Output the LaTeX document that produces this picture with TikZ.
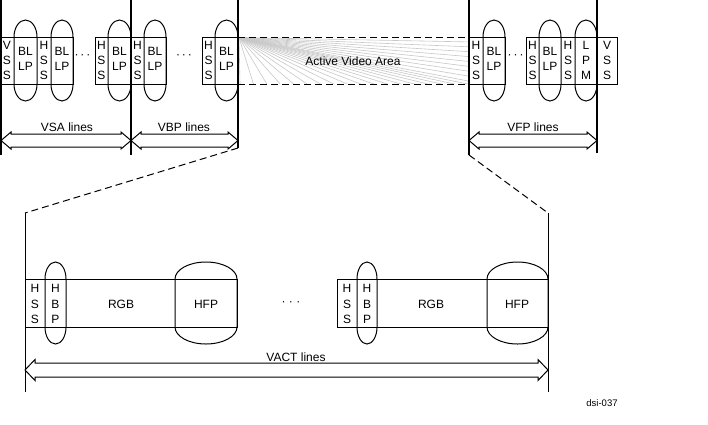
\documentclass[tikz,border=0pt]{standalone}
\usepackage{fontspec}
\setmainfont{Liberation Sans}
\usetikzlibrary{calc}
% stadium-shaped oval: x1, x2, band top, band bottom, cap height
\newcommand\stadoval[5]{%
  \pgfmathsetmacro\stcx{(#1+#2)/2}%
  \pgfmathsetmacro\stax{0.552*(#2-#1)/2}%
  \pgfmathsetmacro\stby{0.552*#5}%
  \draw[thin line] (#1,#3) .. controls (#1,#3-\stby) and (\stcx-\stax,#3-#5) .. (\stcx,#3-#5)
    .. controls (\stcx+\stax,#3-#5) and (#2,#3-\stby) .. (#2,#3) -- (#2,#4)
    .. controls (#2,#4+\stby) and (\stcx+\stax,#4+#5) .. (\stcx,#4+#5)
    .. controls (\stcx-\stax,#4+#5) and (#1,#4+\stby) .. (#1,#4) -- cycle;}
% hollow double arrow: x1, x2, y centre, shaft half height, head half height
\newcommand\hollowdim[5]{%
  \draw[thin line] (#1,#3) -- (#1+10,#3-#5) -- (#1+10,#3-#4) -- (#2-10,#3-#4) -- (#2-10,#3-#5)
    -- (#2,#3) -- (#2-10,#3+#5) -- (#2-10,#3+#4) -- (#1+10,#3+#4) -- (#1+10,#3+#5) -- cycle;}
\begin{document}
\begin{tikzpicture}[x=1pt,y=-1pt,
  thin line/.style={line width=1pt,line join=miter},
  vline/.style={line width=2pt},
  fanline/.style={draw=black!22,line width=0.6pt},
  dashline/.style={line width=1pt,dash pattern=on 7pt off 4pt},
  txt/.style={font=\fontsize{12}{15}\selectfont,inner sep=0pt,align=center},
  btxt/.style={font=\fontsize{12}{15.5}\selectfont,inner sep=0pt,align=center},
  small/.style={font=\fontsize{9.5}{11}\selectfont,inner sep=0pt}]
\useasboundingbox (0,0) rectangle (708,424);

% ---------- top: active video fan ----------
\coordinate (fanorg) at (239,37.5);
\foreach \i in {0,...,17} \draw[fanline] (fanorg) -- ({240+13.4*\i},84);
\foreach \j in {1,...,9} \draw[fanline] (fanorg) -- (469,{37+4.9*\j});
\coordinate (avtl) at (238,37); \coordinate (avtr) at (469,37);
\coordinate (avbl) at (238,84); \coordinate (avbr) at (469,84);
\draw[dashline] (avtl) -- (avtr);
\draw[dashline] (avbl) -- (avbr);
\node[txt] (ava) at (353,61) {Active Video Area};

% ---------- top bands ----------
\draw[thin line] (0,37) rectangle (73,84);
\draw[thin line] (95,37) rectangle (166,84);
\draw[thin line] (202,37) rectangle (238,84);
\draw[thin line] (469,37) rectangle (505,84);
\draw[thin line] (526,37) rectangle (617,84);
\foreach \a/\b in {14/37,51/73,108/131,144/166,215/238,483/505,539/561,575/597}
  \stadoval{\a}{\b}{37}{84}{17};

\node[txt] (vss1) at (7,60) {V\\S\\S};
\node[txt] (bl1) at (25.5,58.5) {BL\\LP};
\node[txt] (hss1) at (44,60) {H\\S\\S};
\node[txt] (bl2) at (62,58.5) {BL\\LP};
\node[txt] (dots1) at (82.5,57) {·\,·\,·};
\node[txt] (hss2) at (101.5,60) {H\\S\\S};
\node[txt] (bl3) at (119.5,58.5) {BL\\LP};
\node[txt] (hss3) at (137.5,60) {H\\S\\S};
\node[txt] (bl4) at (155,58.5) {BL\\LP};
\node[txt] (dots2) at (184,57) {·\,·\,·};
\node[txt] (hss4) at (208.5,60) {H\\S\\S};
\node[txt] (bl5) at (226.5,58.5) {BL\\LP};
\node[txt] (hss5) at (476,60) {H\\S\\S};
\node[txt] (bl6) at (494,58.5) {BL\\LP};
\node[txt] (dots3) at (515.5,57) {·\,·\,·};
\node[txt] (hss6) at (532.5,60) {H\\S\\S};
\node[txt] (bl7) at (550,58.5) {BL\\LP};
\node[txt] (hss7) at (568,60) {H\\S\\S};
\node[txt] (lpm) at (586,60) {L\\P\\M};
\node[txt] (vss2) at (607,60) {V\\S\\S};

% ---------- top vertical lines ----------
\coordinate (v0t) at (1,0);   \coordinate (v0b) at (1,155);
\coordinate (v1t) at (131,0); \coordinate (v1b) at (131,155);
\coordinate (v2t) at (238,0); \coordinate (v2b) at (238,148);
\coordinate (v3t) at (469,0); \coordinate (v3b) at (469,155);
\coordinate (v4t) at (597,0); \coordinate (v4b) at (597,153);
\foreach \n in {0,...,4} \draw[vline] (v\n t) -- (v\n b);

% ---------- top dimension arrows ----------
\hollowdim{1}{131}{140.5}{6.5}{8.5}
\hollowdim{131}{238}{140.5}{6.5}{8.5}
\hollowdim{469}{597}{140.5}{6.5}{8.5}
\node[txt] (vsa) at (67,127) {VSA lines};
\node[txt] (vbp) at (184,127) {VBP lines};
\node[txt] (vfp) at (533,127) {VFP lines};

% ---------- zoom connectors ----------
\coordinate (zl) at (25,213);
\coordinate (zr) at (548,213);
\draw[dashline] (v2b) -- (zl);
\draw[dashline] (v3b) -- (zr);
\coordinate (bl0) at (25,392);
\coordinate (br0) at (548,392);
\draw[thin line] (zl) -- (bl0);
\draw[thin line] (zr) -- (br0);

% ---------- bottom bands ----------
\draw[thin line] (25,279) rectangle (237,327);
\draw[thin line] (337,279) rectangle (548,327);
\foreach \a/\b in {45/66,175/237,357/377,487/548}
  \stadoval{\a}{\b}{279}{327}{17};
\node[btxt] (bhss1) at (35,304) {H\\S\\S};
\node[btxt] (bhbp1) at (55.5,304) {H\\B\\P};
\node[txt] (rgb1) at (121,304) {RGB};
\node[txt] (hfp1) at (206,304) {HFP};
\node[txt] (dots4) at (291,304) {·\;·\;·};
\node[btxt] (bhss2) at (347,304) {H\\S\\S};
\node[btxt] (bhbp2) at (367,304) {H\\B\\P};
\node[txt] (rgb2) at (431,304) {RGB};
\node[txt] (hfp2) at (517,304) {HFP};

% ---------- VACT arrow ----------
\hollowdim{25}{548}{370}{7}{10.5}
\node[txt] (vact) at (296,357) {VACT lines};

\node[small] (dsi) at (602,403) {dsi-037};
\end{tikzpicture}
\end{document}
